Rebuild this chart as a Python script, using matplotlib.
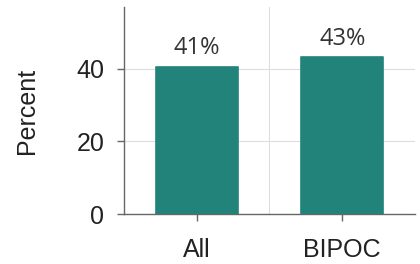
import matplotlib
matplotlib.use("Agg")
import matplotlib.pyplot as plt

groups = ["All", "BIPOC"]
percent = [40.6, 43.2]
labels = ["41%", "43%"]

teal = "#22837a"

fig = plt.figure(figsize=(4.2, 2.64), dpi=100)
ax = fig.add_axes([0.295, 0.189, 0.693, 0.784])

x = range(len(groups))
ax.bar(x, percent, width=0.565, color=teal, edgecolor=teal, linewidth=1.2,
       joinstyle="round", zorder=3)

for xi, v, lab in zip(x, percent, labels):
    ax.text(xi, v + 1.8, lab, ha="center", va="bottom", fontsize=17,
            family="Open Sans", color="#333333", zorder=4)

ax.set_xlim(-0.5, 1.5)
ax.set_ylim(0, 57)
ax.set_yticks([0, 20, 40])
ax.set_xticks(list(x))
ax.set_xticklabels(groups)

# grid: horizontal at ticks, vertical at the category boundary
ax.grid(axis="y", color="#dddddd", linewidth=0.8, zorder=0)
ax.set_xticks([0.5], minor=True)
ax.grid(axis="x", which="minor", color="#dddddd", linewidth=0.8, zorder=0)
ax.tick_params(axis="x", which="minor", length=0)

for s in ["top", "right"]:
    ax.spines[s].set_visible(False)
for s in ["left", "bottom"]:
    ax.spines[s].set_color("#666666")
    ax.spines[s].set_linewidth(1.0)

ax.tick_params(axis="both", which="major", colors="#666666", length=5,
               width=1.0, labelsize=18, labelcolor="#222222", pad=9)
for t in ax.get_xticklabels() + ax.get_yticklabels():
    t.set_family("Liberation Sans")
ax.tick_params(axis="x", which="major", pad=12)

ax.set_ylabel("Percent", fontsize=18, family="Liberation Sans",
              color="#222222", labelpad=27)

fig.savefig("out.png", dpi=100)
